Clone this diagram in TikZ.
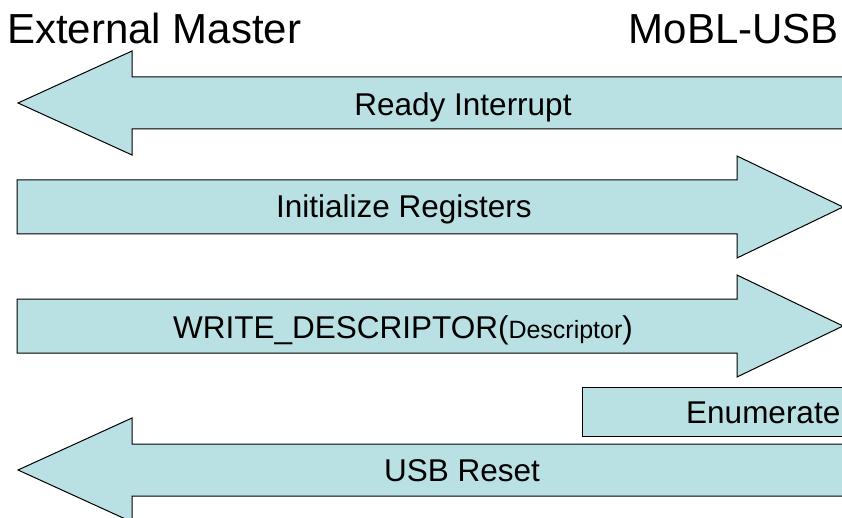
\documentclass[tikz,border=0pt]{standalone}
\usepackage{fontspec}
\setmainfont{Liberation Sans}
\usepackage{tikz}
\usetikzlibrary{positioning}
\definecolor{arrfill}{RGB}{185,224,227}
\tikzset{fatarr/.style={draw=black, fill=arrfill, line width=1pt, line join=miter}}
\tikzset{lbl/.style={inner sep=0, anchor=base, font=\fontsize{31.5}{36}\selectfont}}
\tikzset{ttl/.style={inner sep=0, font=\fontsize{42}{48}\selectfont}}
\newcommand\leftfat[2][]{
		\draw[fatarr, #1] (18,#2) -- (132,#2-52) -- (132,#2-26) -- (870,#2-26)
			-- (870,#2+26) -- (132,#2+26) -- (132,#2+52) -- cycle;
		}
\newcommand\rightfat[2][]{
		\draw[fatarr, #1] (17,#2-27) -- (737,#2-27) -- (737,#2-51) -- (843,#2)
			-- (737,#2+51) -- (737,#2+27) -- (17,#2+27) -- cycle;
		}
\begin{document}
\begin{tikzpicture}[x=1pt, y=-1pt]
			\useasboundingbox (0,0) rectangle (842,518);
			\clip (0,0) rectangle (842,518);
			\node[ttl, anchor=base west] (master) at (7,44) {External Master};
			\node[ttl, anchor=base east] (mobl) at (839,44) {MoBL-USB};
			\leftfat{103}
			\node[lbl] (ready) at (463,116) {Ready Interrupt};
			\rightfat{207}
			\node[lbl] (init) at (404,218) {Initialize Registers};
			\rightfat{326}
			\node[lbl] (writedesc) at (403,338) {WRITE\_DESCRIPTOR({\fontsize{25}{30}\selectfont Descriptor})};
			\draw[fatarr] (582,387) rectangle (870,436);
			\node[lbl, anchor=base west] (enum) at (686,423) {Enumerate};
			\leftfat{470}
			\node[lbl] (reset) at (462,481) {USB Reset};
		\end{tikzpicture}
\end{document}
